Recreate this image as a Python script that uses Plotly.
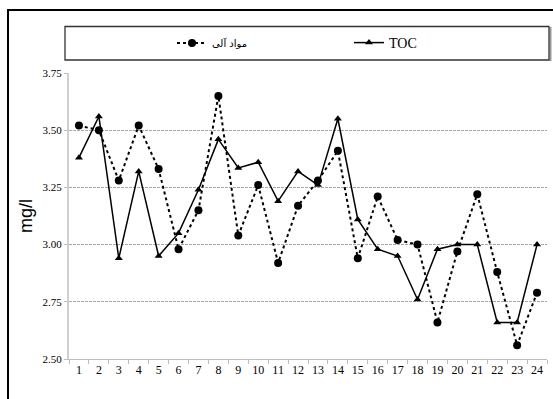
import plotly.graph_objects as go

categories = [str(i) for i in range(1, 25)]
organic = [3.52, 3.50, 3.28, 3.52, 3.33, 2.98, 3.15, 3.65, 3.04, 3.26, 2.92, 3.17,
           3.28, 3.41, 2.94, 3.21, 3.02, 3.00, 2.66, 2.97, 3.22, 2.88, 2.56, 2.79]
toc = [3.38, 3.56, 2.94, 3.32, 2.95, 3.05, 3.24, 3.46, 3.335, 3.36, 3.19, 3.32,
       3.26, 3.55, 3.11, 2.98, 2.95, 2.76, 2.98, 3.00, 3.00, 2.66, 2.66, 3.00]
ytick_vals = [2.50, 2.75, 3.00, 3.25, 3.50, 3.75]
ytick_text = ["2.50", "2.75", "3.00", "3.25", "3.50", "3.75"]
organic_name = "مواد آلی"
toc_name = "TOC"

W, H = 553, 399
L, R, T, B = 69, 6, 73, 40
pw = W - L - R
ph = H - T - B

def px_x(px):
    return (px - L) / pw

def px_y(py):
    return (H - B - py) / ph

SERIF = "Liberation Serif, Times New Roman, serif"

fig = go.Figure()
fig.add_trace(go.Scatter(
    x=categories, y=organic, name=organic_name, mode="lines+markers",
    line=dict(color="black", width=2, dash="dot"),
    marker=dict(symbol="circle", size=8, color="black"),
    legend="legend",
))
fig.add_trace(go.Scatter(
    x=categories, y=toc, name=toc_name, mode="lines+markers",
    line=dict(color="black", width=1.5),
    marker=dict(symbol="triangle-up", size=7, color="black"),
    legend="legend2",
))

shapes = [
    dict(type="line", xref="paper", yref="paper", x0=px_x(8), x1=px_x(8),
         y0=px_y(10), y1=px_y(400), line=dict(color="black", width=2)),
    dict(type="line", xref="paper", yref="paper", x0=px_x(7), x1=px_x(554),
         y0=px_y(10), y1=px_y(10), line=dict(color="black", width=2)),
    dict(type="line", xref="paper", yref="paper", x0=px_x(550.5), x1=px_x(550.5),
         y0=px_y(27), y1=px_y(61), line=dict(color="#9a9a9a", width=2)),
    dict(type="rect", xref="paper", yref="paper", x0=px_x(65), x1=px_x(549),
         y0=px_y(26.5), y1=px_y(60), line=dict(color="#333333", width=1.3)),
]

legend_common = dict(
    orientation="h", yanchor="middle", xanchor="left",
    bgcolor="rgba(0,0,0,0)", borderwidth=0, itemclick=False,
)

fig.update_layout(
    width=W, height=H,
    margin=dict(l=L, r=R, t=T, b=B),
    paper_bgcolor="white", plot_bgcolor="white",
    shapes=shapes,
    showlegend=True,
    legend=dict(x=px_x(172), y=px_y(43),
                font=dict(family="DejaVu Sans, Noto Sans", size=10, color="black"),
                **legend_common),
    legend2=dict(x=px_x(349), y=px_y(43),
                 font=dict(family=SERIF, size=14, color="black"),
                 **legend_common),
    font=dict(family=SERIF, color="black"),
)

fig.update_xaxes(
    type="category", range=[-0.5, 23.5],
    showline=True, linecolor="#bdbdbd", linewidth=1,
    ticks="outside", tickson="boundaries", ticklen=4, tickcolor="#bdbdbd",
    showgrid=False, zeroline=False, tickangle=0,
    tickfont=dict(family=SERIF, size=12, color="black"),
    fixedrange=True,
)
fig.update_yaxes(
    range=[2.50, 3.75], tickvals=ytick_vals, ticktext=ytick_text,
    showline=True, linecolor="#cfcfcf", linewidth=2,
    ticks="outside", ticklen=3, tickcolor="#bdbdbd",
    showgrid=True, gridcolor="#a8a8a8", gridwidth=1, griddash="3px,1px",
    zeroline=False,
    tickfont=dict(family=SERIF, size=11, color="black"),
    title=dict(text="mg/l", font=dict(family="Liberation Sans, Arial", size=18, color="black"), standoff=5),
    fixedrange=True,
)

fig.write_html("out.html")
